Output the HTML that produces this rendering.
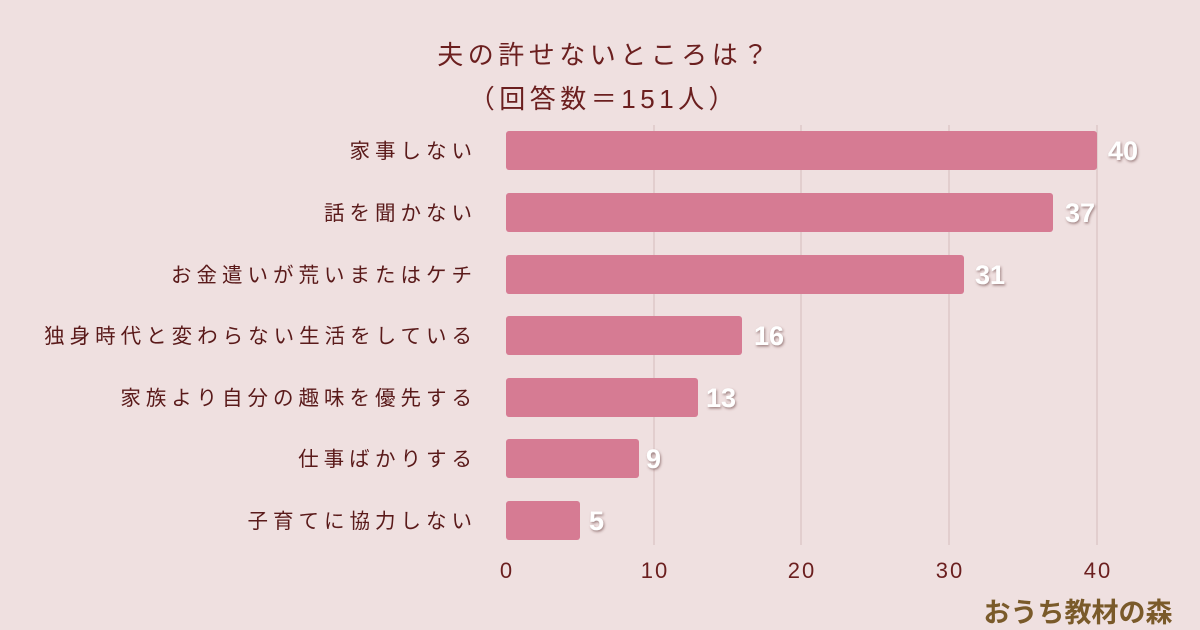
<!DOCTYPE html>
<html><head><meta charset="utf-8"><style>
html,body{margin:0;padding:0;background:#efe0e0;}
svg{display:block;}
text{font-family:"Liberation Sans","Noto Sans CJK JP",sans-serif;}
</style></head><body>
<svg width="1200" height="630" viewBox="0 0 1200 630" xmlns="http://www.w3.org/2000/svg">
<defs><filter id="sh" x="-20%" y="-20%" width="140%" height="140%"><feDropShadow dx="1" dy="1.5" stdDeviation="1.2" flood-color="#5a3030" flood-opacity="0.55"/></filter></defs>
<rect width="1200" height="630" fill="#efe0e0"/>
<g fill="#6b1f1f" font-size="26" text-anchor="middle" letter-spacing="4.5">
<text x="605" y="64">夫の許せないところは？</text>
<text x="604" y="108">（回答数＝151人）</text>
</g>
<g stroke="#d4bcbc" stroke-width="1">
<line x1="654" y1="125" x2="654" y2="545"/><line x1="801" y1="125" x2="801" y2="545"/><line x1="949" y1="125" x2="949" y2="545"/><line x1="1097" y1="125" x2="1097" y2="545"/>
</g>
<g fill="#d67b93">
<rect x="506" y="131" width="591" height="39" rx="3"/>
<rect x="506" y="193" width="547" height="39" rx="3"/>
<rect x="506" y="255" width="458" height="39" rx="3"/>
<rect x="506" y="316" width="236" height="39" rx="3"/>
<rect x="506" y="378" width="192" height="39" rx="3"/>
<rect x="506" y="439" width="133" height="39" rx="3"/>
<rect x="506" y="501" width="74" height="39" rx="3"/>
</g>
<g fill="#5a1a1a" font-size="20.5" text-anchor="end" letter-spacing="5">
<text x="477" y="158">家事しない</text>
<text x="477" y="220">話を聞かない</text>
<text x="477" y="282">お金遣いが荒いまたはケチ</text>
<text x="477" y="343">独身時代と変わらない生活をしている</text>
<text x="477" y="405">家族より自分の趣味を優先する</text>
<text x="477" y="466">仕事ばかりする</text>
<text x="477" y="528">子育てに協力しない</text>
</g>
<g fill="#fff" font-size="27" font-weight="bold" filter="url(#sh)">
<text x="1108" y="160">40</text>
<text x="1065" y="222">37</text>
<text x="975" y="284">31</text>
<text x="754" y="345">16</text>
<text x="706" y="407">13</text>
<text x="646" y="468">9</text>
<text x="589" y="530">5</text>
</g>
<g fill="#6b1f1f" font-size="22" text-anchor="middle" letter-spacing="2">
<text x="507" y="578">0</text><text x="655" y="578">10</text><text x="802" y="578">20</text><text x="950" y="578">30</text><text x="1098" y="578">40</text>
</g>
<text x="1078" y="622" text-anchor="middle" font-size="27" font-weight="bold" fill="#7a5a2a">おうち教材の森</text>
</svg>
</body></html>
